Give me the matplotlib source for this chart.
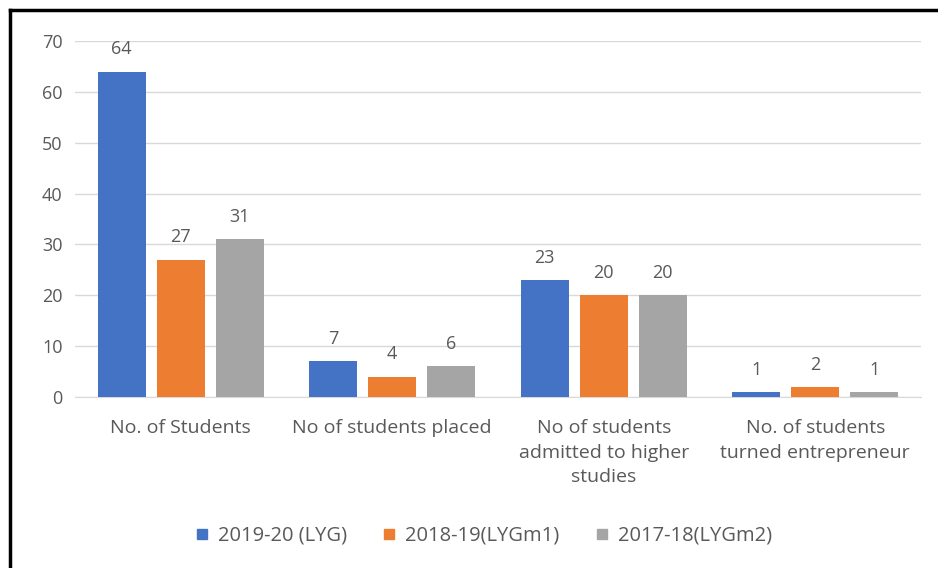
import matplotlib
matplotlib.use("Agg")
import matplotlib.pyplot as plt
import numpy as np
from matplotlib.lines import Line2D

categories = ["No. of Students", "No of students placed",
              "No of students\nadmitted to higher\nstudies",
              "No. of students\nturned entrepreneur"]
series_names = ["2019-20 (LYG)", "2018-19(LYGm1)", "2017-18(LYGm2)"]
vals_2019 = [64, 7, 23, 1]
vals_2018 = [27, 4, 20, 2]
vals_2017 = [31, 6, 20, 1]
yticks = [0, 10, 20, 30, 40, 50, 60, 70]

colors = ["#4472C4", "#ED7D31", "#A5A5A5"]
txt = "#595959"
plt.rcParams['font.family'] = ['Open Sans', 'DejaVu Sans']

fig = plt.figure(figsize=(9.38, 5.68), dpi=100)
ax = fig.add_axes([75/938, 1-397/568, 846/938, 356/568])

x = np.arange(len(categories))
w = 0.227
off = 0.279
data = [vals_2019, vals_2018, vals_2017]
for i, (vals, c, name) in enumerate(zip(data, colors, series_names)):
    bars = ax.bar(x + (i-1)*off, vals, w, color=c, label=name, zorder=3)
    for b, v in zip(bars, vals):
        ax.text(b.get_x()+b.get_width()/2, v + 2.6, str(v), ha='center', va='bottom',
                fontsize=13, color=txt)

ax.set_xlim(-0.5, len(categories)-0.5)
ax.set_ylim(0, 70)
ax.set_yticks(yticks)
ax.set_yticklabels([str(t) for t in yticks], fontsize=13, color=txt)
ax.yaxis.grid(True, color="#D9D9D9", linewidth=1, zorder=0)
ax.set_xticks(x)
ax.set_xticklabels(categories, fontsize=14, color=txt, linespacing=1.45, va='top')
ax.tick_params(axis='both', length=0)
ax.tick_params(axis='x', pad=16)
ax.tick_params(axis='y', pad=9)
for s in ['top', 'right', 'left']:
    ax.spines[s].set_visible(False)
ax.spines['bottom'].set_color("#D9D9D9")
ax.spines['bottom'].set_zorder(1)

handles = [Line2D([0], [0], marker='s', linestyle='none', markersize=7,
                  markerfacecolor=c, markeredgecolor=c) for c in colors]
fig.legend(handles, series_names, loc='center', bbox_to_anchor=(482/938, 1-536/568),
           ncol=3, frameon=False, fontsize=14.5, labelcolor=txt, handlelength=1.0,
           handletextpad=0.3, columnspacing=1.6)

# border (top and left visible)
fig.add_artist(Line2D([10/938, 1.0], [1-10/568, 1-10/568], color='black', linewidth=2.5,
                      transform=fig.transFigure))
fig.add_artist(Line2D([10/938, 10/938], [0, 1-10/568], color='black', linewidth=2.5,
                      transform=fig.transFigure))

fig.savefig("out.png", dpi=100)
